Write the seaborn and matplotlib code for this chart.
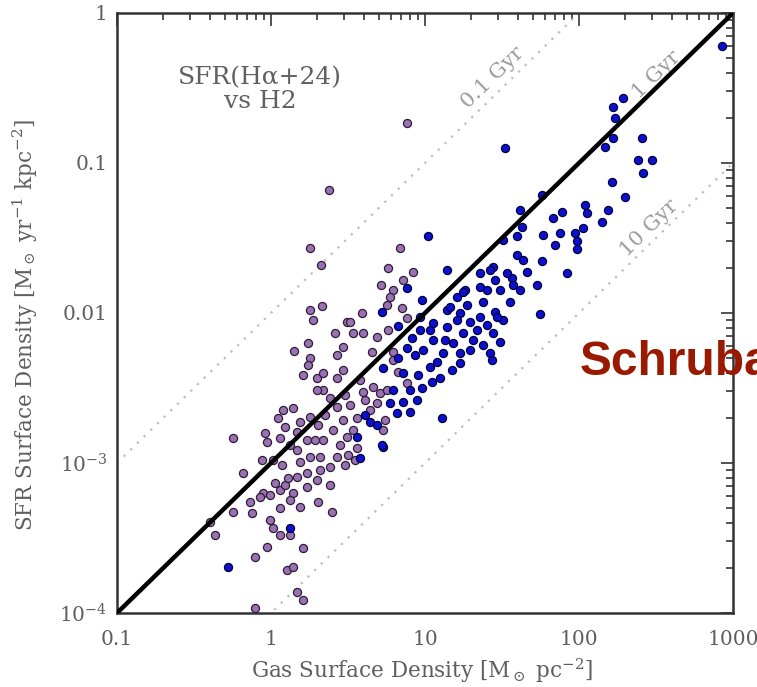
import numpy as np
import pandas as pd
import matplotlib
matplotlib.use("Agg")
import matplotlib.pyplot as plt
from matplotlib.ticker import FixedLocator, LogLocator, NullFormatter
import seaborn as sns

# log10 gas surface density [Msun pc^-2] and log10 SFR surface density [Msun yr^-1 kpc^-2]
# outer / low-density regions (H-alpha + 24um vs H2)
log_gas_outer = [
    0.883, 0.377, 0.253, 0.325, 0.253, 0.331, 0.273, 0.494, 0.416, 0.240,
    0.149, 0.468, 0.429, 0.253, 0.838, 0.760, 0.922, 0.857, 0.714, 0.792,
    0.773, 0.753, 0.851, 0.883, 0.591, 0.513, 0.532, 0.597, 0.688, 0.760,
    0.656, 0.792, 0.208, 0.240, 0.299, 0.338, 0.429, 0.468, 0.338, 0.078,
    0.143, 0.045, 0.091, -0.247, -0.039, -0.026, 0.058, 0.169, 0.253, 0.429,
    0.468, 0.494, 0.338, 0.234, -0.058, 0.013, 0.169, 0.253, 0.318, 0.383,
    0.429, -0.182, 0.169, 0.234, 0.299, 0.383, 0.058, 0.143, 0.234, -0.052,
    0.597, 0.662, 0.708, 0.688, 0.558, 0.727, 0.532, 0.558, 0.545, 0.792,
    0.825, 0.883, 0.753, 0.740, -0.071, -0.006, 0.123, 0.305, 0.188, 0.058,
    -0.136, -0.123, -0.247, 0.396, -0.006, 0.013, 0.058, 0.123, -0.396, -0.364,
    -0.026, -0.104, 0.208, 0.104, 0.143, 0.169, 0.208, -0.104, 0.481, 0.513,
    0.448, 0.500, 0.403, 0.578, 0.610, 0.643, 0.091, 0.026, 0.299, 0.383,
    0.305, 0.188, 0.123, 0.071, 0.318, 0.481, 0.188, 0.351, 0.286, 0.110,
]
log_sfr_outer = [
    -0.733, -1.180, -1.567, -1.680, -1.980, -1.953, -2.047, -2.060, -2.133, -2.200,
    -2.253, -2.227, -2.280, -2.300, -1.567, -1.700, -1.727, -1.780, -1.813, -1.847,
    -1.893, -1.947, -1.967, -2.033, -2.000, -2.060, -2.133, -2.133, -2.160, -2.113,
    -2.260, -2.260, -2.413, -2.347, -2.433, -2.400, -2.433, -2.380, -2.513, -2.647,
    -2.633, -2.700, -2.760, -2.833, -2.800, -2.860, -2.833, -2.793, -2.693, -2.627,
    -2.713, -2.827, -2.847, -2.847, -2.980, -2.980, -2.913, -2.960, -2.960, -3.027,
    -2.960, -3.067, -3.093, -3.067, -3.113, -3.147, -3.180, -3.200, -3.160, -3.200,
    -2.527, -2.493, -2.533, -2.600, -2.700, -2.780, -2.780, -2.900, -2.980, -2.313,
    -2.393, -2.467, -2.513, -2.713, -3.227, -3.213, -3.247, -3.260, -3.293, -3.300,
    -3.260, -3.333, -3.327, -3.327, -3.380, -3.433, -3.480, -3.480, -3.393, -3.480,
    -3.560, -3.627, -3.567, -3.713, -3.693, -3.860, -3.913, -3.967, -2.547, -2.613,
    -2.880, -2.947, -2.780, -2.447, -2.580, -2.647, -3.147, -3.133, -2.513, -2.567,
    -2.747, -2.727, -2.880, -3.013, -3.047, -3.013, -2.993, -2.680, -2.847, -3.100,
]

# inner / high-density regions
log_gas_inner = [
    2.929, 2.221, 2.286, 2.234, 2.221, 2.169, 2.409, 2.383, 2.474, 2.416,
    1.519, 2.214, 2.299, 1.760, 1.617, 1.831, 1.890, 2.039, 2.052, 2.188,
    2.149, 1.630, 1.597, 1.506, 1.766, 1.877, 1.974, 2.026, 1.844, 1.987,
    1.987, 1.019, 1.143, 1.597, 1.636, 1.760, 1.442, 1.357, 1.922, 1.727,
    1.565, 1.617, 1.455, 1.487, 1.357, 1.260, 1.208, 1.273, 1.377, 1.552,
    1.455, 1.747, 0.981, 0.968, 1.143, 1.227, 1.357, 1.506, 1.338, 1.032,
    1.143, 1.442, 0.883, 0.721, 1.247, 1.422, 1.532, 1.403, 1.162, 1.468,
    1.052, 1.247, 0.968, 1.052, 1.182, 1.312, 1.487, 0.883, 0.987, 1.117,
    1.227, 1.422, 1.662, 1.435, 1.110, 0.903, 0.727, 1.227, 1.032, 0.727,
    0.857, 0.955, 1.097, 1.175, 0.792, 0.903, 0.981, 0.857, 0.773, 0.643,
    0.688, 0.721, 0.578, 0.558, 0.123, -0.279, 1.571, 0.916, 0.825, 1.045,
    0.948, 0.818, 0.610, 1.208, 1.292, 1.403, 1.130, 1.377, 1.292, 1.078,
    0.935, 0.825,
]
log_sfr_inner = [
    -0.220, -0.627, -0.567, -0.700, -0.833, -0.893, -0.833, -0.980, -0.980, -1.067,
    -0.900, -1.127, -1.227, -1.213, -1.313, -1.367, -1.327, -1.280, -1.333, -1.313,
    -1.393, -1.427, -1.487, -1.513, -1.480, -1.467, -1.467, -1.433, -1.547, -1.520,
    -1.573, -1.487, -1.713, -1.613, -1.647, -1.653, -1.693, -1.733, -1.733, -1.813,
    -1.767, -1.847, -1.780, -1.847, -1.827, -1.847, -1.893, -1.947, -1.927, -1.927,
    -1.993, -2.007, -1.913, -2.027, -1.980, -2.000, -2.027, -2.047, -2.113, -2.113,
    -2.093, -2.133, -1.833, -1.993, -1.860, -1.713, -1.733, -1.847, -1.960, -2.027,
    -2.067, -2.133, -2.113, -2.180, -2.200, -2.180, -2.193, -2.233, -2.247, -2.267,
    -2.267, -2.267, -1.727, -2.313, -2.700, -2.660, -2.893, -2.333, -2.360, -2.367,
    -2.400, -2.413, -2.433, -2.380, -2.513, -2.513, -2.500, -2.593, -2.600, -2.727,
    -2.747, -2.880, -2.967, -2.827, -3.433, -3.693, -1.813, -2.167, -2.087, -2.460,
    -2.580, -2.667, -2.680, -2.047, -2.060, -2.080, -2.180, -2.213, -2.247, -2.327,
    -2.280, -2.300,
]

# constant depletion times (Gyr) -> SFR = gas / t_dep
depletion_times = [0.1, 1.0, 10.0]
depletion_labels = ["0.1 Gyr", "1 Gyr", "10 Gyr"]

x_ticks = [0.1, 1, 10, 100, 1000]
x_ticklabels = ["0.1", "1", "10", "100", "1000"]
y_ticks = [1e-4, 1e-3, 1e-2, 1e-1, 1]
y_ticklabels = ["10$^{-4}$", "10$^{-3}$", "0.01", "0.1", "1"]

outer = pd.DataFrame({"gas": 10 ** np.array(log_gas_outer),
                      "sfr": 10 ** np.array(log_sfr_outer)})
inner = pd.DataFrame({"gas": 10 ** np.array(log_gas_inner),
                      "sfr": 10 ** np.array(log_sfr_inner)})

sns.set_style("white")
plt.rcParams["font.family"] = ["DejaVu Serif"]
plt.rcParams["mathtext.fontset"] = "dejavuserif"

fig = plt.figure(figsize=(7.57, 6.87), dpi=100)
ax = fig.add_axes([117 / 757, 1 - 613 / 687, 616 / 757, 600 / 687])
ax.set_xscale("log")
ax.set_yscale("log")
ax.set_xlim(0.1, 1000)
ax.set_ylim(1e-4, 1)

# depletion-time guides: gas [Msun/pc^2] * 1e6 / (t [yr]) -> Msun/yr/kpc^2
xg = np.array([0.1, 1000.0])
for t in depletion_times:
    if t == 1.0:
        continue
    ax.plot(xg, xg * 1e-3 / t, color="#bdbdbd", lw=1.6, ls=(0, (1, 3.2)), zorder=1)

grey = "#5e5e5e"
rot = 44.2
ax.text(27.5, 0.37, depletion_labels[0], rotation=rot, ha="center", va="center",
        color="#9a9a9a", fontsize=15, zorder=1)
ax.text(320, 0.39, depletion_labels[1], rotation=rot, ha="center", va="center",
        color="#9a9a9a", fontsize=15, zorder=1)
ax.text(285, 0.037, depletion_labels[2], rotation=rot, ha="center", va="center",
        color="#9a9a9a", fontsize=15, zorder=1)

sns.scatterplot(data=outer, x="gas", y="sfr", ax=ax, s=34, color="#9a72b2",
                edgecolor="#2e1d38", linewidth=0.9, zorder=3, legend=False)
sns.scatterplot(data=inner, x="gas", y="sfr", ax=ax, s=34, color="#0d10d0",
                edgecolor="#00003a", linewidth=0.9, zorder=4, legend=False)

# 1 Gyr depletion line
ax.plot(xg, xg * 1e-3 / depletion_times[1], color="black", lw=3.2, zorder=5,
        solid_capstyle="butt")

ax.xaxis.set_major_locator(FixedLocator(x_ticks))
ax.set_xticklabels(x_ticklabels)
ax.yaxis.set_major_locator(FixedLocator(y_ticks))
ax.set_yticklabels(y_ticklabels)
ax.xaxis.set_minor_locator(LogLocator(base=10, subs=np.arange(2, 10)))
ax.yaxis.set_minor_locator(LogLocator(base=10, subs=np.arange(2, 10)))
ax.xaxis.set_minor_formatter(NullFormatter())
ax.yaxis.set_minor_formatter(NullFormatter())

ax.tick_params(which="both", direction="in", top=True, right=True,
               color="#444444", width=1.3)
ax.tick_params(which="major", length=9)
ax.tick_params(which="minor", length=5)
ax.tick_params(axis="x", which="major", pad=12, labelsize=14.5, labelcolor=grey)
ax.tick_params(axis="y", which="major", pad=7, labelsize=14.5, labelcolor=grey)
for sp in ax.spines.values():
    sp.set_color("#333333")
    sp.set_linewidth(1.8)

ax.set_xlabel(r"Gas Surface Density [M$_\odot$ pc$^{-2}$]", fontsize=15.5, color=grey)
ax.set_ylabel(r"SFR Surface Density [M$_\odot$ yr$^{-1}$ kpc$^{-2}$]", fontsize=15.5,
              color=grey)
ax.xaxis.set_label_coords(0.495, -0.072)
ax.yaxis.set_label_coords(-0.125, 0.48)

ax.text(0.232, 0.873, "SFR(H\u03b1+24)\nvs H2", transform=ax.transAxes,
        ha="center", va="center", fontsize=18, color="#606060", linespacing=1.05)

fig.text(580 / 757, 1 - 375 / 687, "Schruba", fontsize=34.5, fontweight="bold",
         color="#991a00", family=["Liberation Sans", "DejaVu Sans"],
         ha="left", va="baseline")

fig.savefig("out.png", dpi=100, facecolor="white")
